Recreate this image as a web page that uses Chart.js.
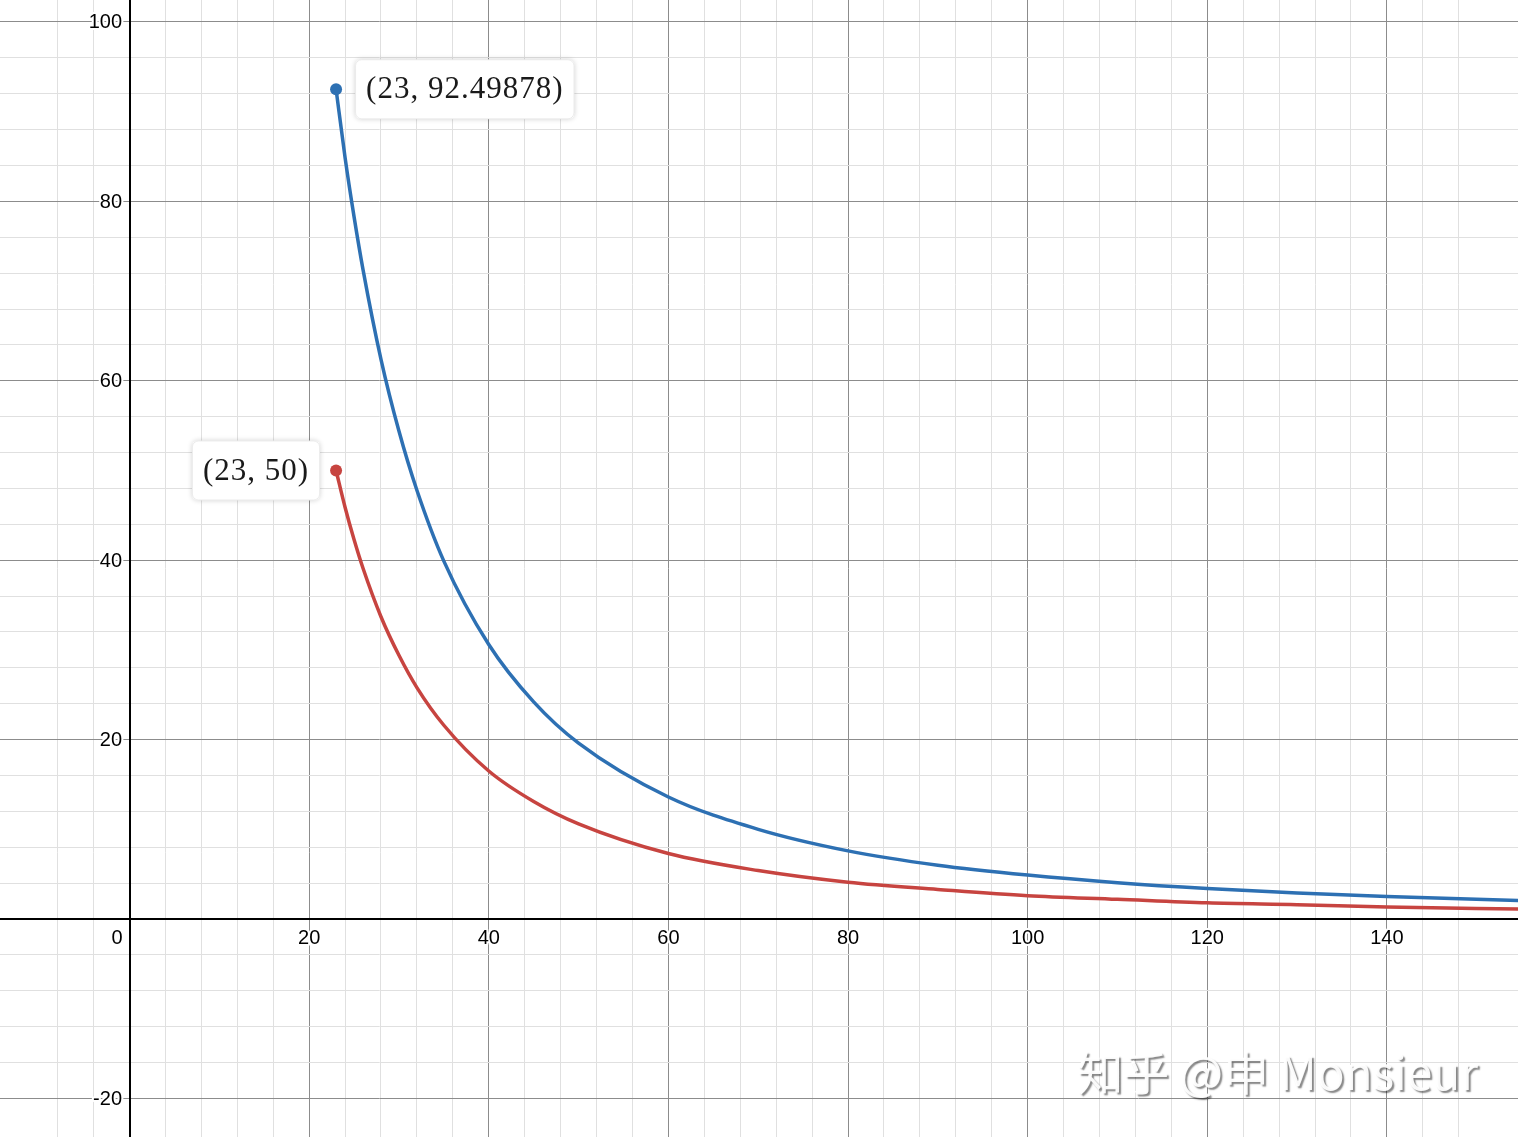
<!DOCTYPE html>
<html>
<head>
<meta charset="utf-8">
<script src="https://cdn.jsdelivr.net/npm/chart.js@4"></script>
<style>
  html, body { margin: 0; padding: 0; background: #fff; }
  #wrap { width: 1518px; height: 1137px; position: relative; }
</style>
</head>
<body>
<div id="wrap"><canvas id="graph"></canvas></div>
<script>
// values
const xValues = [23, 24, 25, 26, 28, 30, 32, 35, 40, 45, 50, 60, 70, 80, 90, 100, 110, 120, 130, 140, 155];
const blueValues = [92.49878, 84.9, 78.3, 72.4, 62.4, 54.4, 47.8, 39.9, 30.6, 24.2, 19.6, 13.6, 10.0, 7.6, 6.0, 4.9, 4.05, 3.4, 2.9, 2.5, 2.05];
const redValues = [50, 45.9, 42.3, 39.1, 33.7, 29.4, 25.8, 21.6, 16.5, 13.1, 10.6, 7.3, 5.4, 4.1, 3.3, 2.6, 2.2, 1.8, 1.6, 1.35, 1.1];
const xTickLabels = [0, 20, 40, 60, 80, 100, 120, 140];
const yTickLabels = [-20, 20, 40, 60, 80, 100];
const blueLabel = '(23, 92.49878)';
const redLabel = '(23, 50)';
const watermark = '知乎 @申 Monsieur';

const BLUE = '#2d70b3';
const RED = '#c74440';

function onGrid(v, step) {
    return Math.abs(v / step - Math.round(v / step)) < 1e-6;
}

function gridColor(ctx) {
    const v = ctx.tick ? ctx.tick.value : 0;
    return onGrid(v, 20) ? '#8c8c8c' : '#e0e0e0';
}

const axesPlugin = {
    id: 'axesPlugin',
    beforeDatasetsDraw(chart) {
        const { ctx, scales: { x, y }, chartArea } = chart;
        const x0 = Math.round(x.getPixelForValue(0));
        const y0 = Math.round(y.getPixelForValue(0));
        ctx.save();
        ctx.strokeStyle = '#000';
        ctx.lineWidth = 2;
        ctx.beginPath();
        ctx.moveTo(chartArea.left, y0);
        ctx.lineTo(chartArea.right, y0);
        ctx.moveTo(x0, chartArea.top);
        ctx.lineTo(x0, chartArea.bottom);
        ctx.stroke();

        ctx.font = '20px "Liberation Sans", Arial, sans-serif';
        ctx.lineJoin = 'round';
        ctx.lineWidth = 4;
        ctx.strokeStyle = '#fff';
        ctx.fillStyle = '#000';
        ctx.textBaseline = 'middle';
        xTickLabels.forEach(v => {
            let px = x.getPixelForValue(v);
            if (v === 0) {
                ctx.textAlign = 'right';
                px -= 7;
            } else {
                ctx.textAlign = 'center';
            }
            ctx.strokeText(String(v), px, y0 + 19);
            ctx.fillText(String(v), px, y0 + 19);
        });
        ctx.textAlign = 'right';
        yTickLabels.forEach(v => {
            const py = y.getPixelForValue(v);
            ctx.strokeText(String(v), x0 - 8, py + 1);
            ctx.fillText(String(v), x0 - 8, py + 1);
        });
        ctx.restore();
    }
};

function drawBox(ctx, text, px, py, side) {
    ctx.font = '31px "Liberation Serif", "DejaVu Serif", serif';
    ctx.letterSpacing = '1px';
    const w = ctx.measureText(text).width + 22;
    const h = 60;
    const left = side === 'right' ? px + 19 : px - 16 - w;
    const top = py - h / 2;
    ctx.save();
    ctx.shadowColor = 'rgba(0,0,0,0.18)';
    ctx.shadowBlur = 5;
    ctx.fillStyle = '#fff';
    ctx.beginPath();
    ctx.roundRect(left, top, w, h, 6);
    ctx.fill();
    ctx.restore();
    ctx.strokeStyle = 'rgba(0,0,0,0.08)';
    ctx.lineWidth = 1;
    ctx.beginPath();
    ctx.roundRect(left + 0.5, top + 0.5, w - 1, h - 1, 6);
    ctx.stroke();
    ctx.fillStyle = '#1a1a1a';
    ctx.textAlign = 'left';
    ctx.textBaseline = 'middle';
    ctx.fillText(text, left + 11, py + 1);
    ctx.letterSpacing = '0px';
}

const labelPlugin = {
    id: 'labelPlugin',
    afterDatasetsDraw(chart) {
        const { ctx, scales: { x, y } } = chart;
        ctx.save();
        drawBox(ctx, blueLabel, x.getPixelForValue(xValues[0]), y.getPixelForValue(blueValues[0]), 'right');
        drawBox(ctx, redLabel, x.getPixelForValue(xValues[0]), y.getPixelForValue(redValues[0]), 'left');

        // watermark
        ctx.font = '46px "Noto Sans CJK SC", sans-serif';
        ctx.textAlign = 'right';
        ctx.textBaseline = 'middle';
        ctx.shadowColor = 'rgba(0,0,0,0.5)';
        ctx.shadowOffsetX = 2;
        ctx.shadowOffsetY = 2;
        ctx.shadowBlur = 1.5;
        ctx.fillStyle = 'rgba(255,255,255,0.95)';
        ctx.fillText(watermark, 1478, 1073);
        ctx.restore();
    }
};

function series(values) {
    return xValues.map((x, i) => ({ x: x, y: values[i] }));
}

function keepGridTicks(scale) {
    scale.ticks = scale.ticks.filter(t => onGrid(t.value, 4));
}

new Chart(document.getElementById('graph'), {
    type: 'line',
    data: {
        datasets: [
            {
                label: 'blue',
                data: series(blueValues),
                borderColor: BLUE,
                backgroundColor: BLUE,
                borderWidth: 3.5,
                cubicInterpolationMode: 'monotone',
                pointRadius: ctx => ctx.dataIndex === 0 ? 6 : 0,
                pointBorderWidth: 0
            },
            {
                label: 'red',
                data: series(redValues),
                borderColor: RED,
                backgroundColor: RED,
                borderWidth: 3.5,
                cubicInterpolationMode: 'monotone',
                pointRadius: ctx => ctx.dataIndex === 0 ? 6 : 0,
                pointBorderWidth: 0
            }
        ]
    },
    options: {
        responsive: true,
        maintainAspectRatio: false,
        animation: false,
        layout: { padding: 0, autoPadding: false },
        scales: {
            x: {
                type: 'linear',
                min: -14.42,
                max: 154.6,
                ticks: { display: false, stepSize: 4, padding: 0 },
                afterBuildTicks: keepGridTicks,
                grid: { color: gridColor, drawTicks: false, lineWidth: 1 },
                border: { display: false }
            },
            y: {
                type: 'linear',
                min: -24.3,
                max: 102.45,
                ticks: { display: false, stepSize: 4, padding: 0 },
                afterBuildTicks: keepGridTicks,
                grid: { color: gridColor, drawTicks: false, lineWidth: 1 },
                border: { display: false }
            }
        },
        plugins: {
            legend: { display: false },
            tooltip: { enabled: false }
        }
    },
    plugins: [axesPlugin, labelPlugin]
});
</script>
</body>
</html>
